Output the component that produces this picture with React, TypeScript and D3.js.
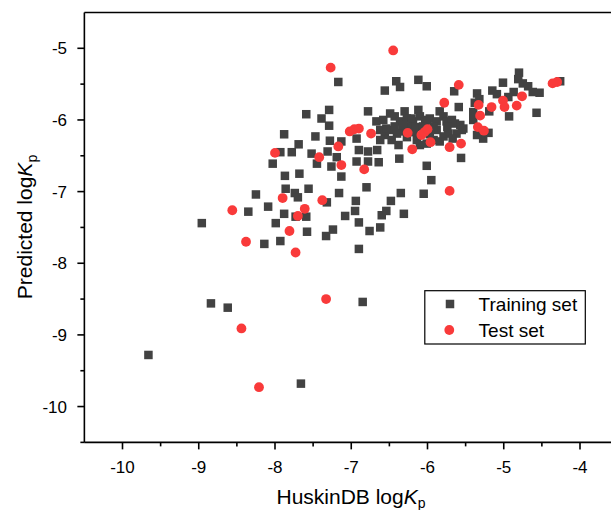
import React from "react";
import * as d3 from "d3";

const xTicks = [-10, -9, -8, -7, -6, -5, -4];
const yTicks = [-5, -6, -7, -8, -9, -10];
const xMinor = [-9.5, -8.5, -7.5, -6.5, -5.5, -4.5];
const yMinor = [-5.5, -6.5, -7.5, -8.5, -9.5, -10.5];

const trainingSet: [number, number][] = [
  [-7.17, -5.47], [-6.56, -5.59], [-6.41, -5.46], [-6.36, -5.54], [-6.12, -5.44], [-6.01, -5.53],
  [-5.65, -5.6], [-5.35, -5.63], [-5.32, -5.71], [-5.15, -5.59], [-5.01, -5.48], [-4.8, -5.34],
  [-4.81, -5.43], [-4.75, -5.49], [-4.68, -5.53], [-4.62, -5.61], [-4.53, -5.62], [-4.26, -5.46],
  [-4.94, -5.68], [-4.87, -5.61], [-4.57, -5.9], [-4.93, -5.95], [-5.59, -5.82], [-5.4, -5.89],
  [-5.38, -5.76], [-5.4, -6.0], [-5.19, -5.88], [-5.09, -5.64], [-7.59, -5.92], [-7.29, -5.86],
  [-7.39, -5.98], [-7.29, -6.08], [-6.78, -5.88],
  [-6.67, -6.02], [-6.58, -6.0], [-6.49, -5.91], [-6.43, -5.95], [-6.36, -6.02], [-6.3, -5.88],
  [-6.27, -5.98], [-6.19, -6.02], [-6.12, -5.86], [-6.1, -5.95], [-6.03, -6.02], [-5.97, -5.98],
  [-5.88, -6.02], [-5.84, -5.88], [-5.79, -5.95], [-5.75, -6.02], [-5.68, -6.0], [-5.64, -6.05],
  [-5.57, -6.07], [-5.53, -6.12],
  [-6.62, -6.14], [-6.56, -6.21], [-6.49, -6.14], [-6.4, -6.19], [-6.32, -6.16], [-6.25, -6.09],
  [-6.14, -6.28], [-6.1, -6.35], [-6.01, -6.33], [-5.92, -6.28], [-5.84, -6.3], [-5.79, -6.23],
  [-5.73, -6.19], [-5.62, -6.19], [-5.55, -6.14], [-6.38, -6.35], [-6.47, -6.28], [-6.62, -6.28],
  [-5.88, -6.14], [-5.27, -6.26], [-5.35, -6.21], [-5.2, -6.18], [-6.43, -6.09], [-6.54, -6.12],
  [-6.21, -5.98], [-6.01, -6.0], [-6.32, -6.07],
  [-5.92, -6.09], [-5.74, -6.1], [-6.16, -6.1], [-6.06, -6.09], [-5.97, -6.2], [-6.27, -6.24],
  [-5.67, -6.26], [-6.18, -6.17],
  [-7.88, -6.2], [-7.47, -6.23], [-7.69, -6.34], [-7.28, -6.29], [-7.13, -6.3], [-6.93, -6.26],
  [-6.9, -6.42], [-6.78, -6.44], [-6.66, -6.42], [-6.93, -6.58], [-6.78, -6.58], [-6.64, -6.59],
  [-6.37, -6.54], [-6.01, -6.64], [-5.95, -6.84], [-5.56, -6.53],
  [-7.93, -6.45], [-7.78, -6.45], [-8.03, -6.61], [-7.52, -6.47], [-7.45, -6.61], [-7.31, -6.44],
  [-7.26, -6.65], [-7.19, -6.52], [-7.13, -6.79], [-6.8, -6.94],
  [-7.87, -6.78], [-7.68, -6.75], [-7.56, -6.96], [-7.86, -6.96], [-7.74, -7.02], [-7.7, -7.08],
  [-8.25, -7.04], [-8.09, -7.21], [-8.35, -7.28], [-7.88, -7.31], [-7.73, -7.35], [-7.59, -7.35],
  [-7.99, -7.44], [-8.14, -7.73], [-7.93, -7.69], [-7.58, -7.56], [-7.33, -7.62], [-7.24, -7.53],
  [-7.32, -7.15], [-7.16, -7.02], [-6.94, -7.13], [-6.95, -7.27], [-7.08, -7.34], [-6.9, -7.43],
  [-6.76, -7.55], [-6.62, -7.5], [-6.6, -7.33], [-6.54, -7.27], [-6.48, -7.13], [-6.35, -7.02],
  [-6.31, -7.31], [-6.05, -7.03], [-6.9, -7.8], [-8.96, -7.44], [-8.84, -8.56], [-8.62, -8.62],
  [-9.66, -9.28], [-7.66, -9.68], [-6.85, -8.54],
];

const testSet: [number, number][] = [
  [-6.45, -5.03], [-7.27, -5.27], [-5.59, -5.51], [-4.36, -5.49], [-4.3, -5.47], [-5.78, -5.76],
  [-5.33, -5.79], [-5.16, -5.82], [-5.01, -5.73], [-4.99, -5.82], [-4.83, -5.8], [-4.76, -5.67],
  [-5.31, -5.94], [-5.34, -6.1], [-5.26, -6.15], [-7.02, -6.16], [-6.96, -6.13], [-6.9, -6.12],
  [-6.74, -6.19], [-6.26, -6.18], [-6.08, -6.21], [-6.04, -6.17], [-6.0, -6.13], [-5.96, -6.31],
  [-6.2, -6.41], [-5.71, -6.38], [-5.56, -6.33], [-7.17, -6.37], [-7.42, -6.52], [-7.13, -6.63],
  [-6.83, -6.69], [-5.71, -6.99], [-7.38, -7.12], [-8.0, -6.46], [-7.9, -7.09], [-7.61, -7.24],
  [-7.7, -7.34], [-8.56, -7.26], [-7.81, -7.55], [-8.38, -7.7], [-7.73, -7.85], [-7.33, -8.5],
  [-8.44, -8.91], [-8.21, -9.73],
];

const legendLabels = ["Training set", "Test set"];

const W = 611;
const H = 510;
const FONT = "'Liberation Sans', Arial, Helvetica, sans-serif";
const SQ = "#424242";
const RED = "#f93a3a";

export default function App() {
  const x = d3.scaleLinear().domain([-10, -4]).range([122.5, 580]);
  const y = d3.scaleLinear().domain([-5, -10]).range([48.3, 406.55]);
  const x0 = x(-10.5);
  const x1 = x(-3.4);
  const yTop = y(-4.5);
  const yBot = y(-10.5);
  const sq = 8.5;
  const r = 4.9;

  return (
    <svg
      width={W}
      height={H}
      style={{ position: "absolute", left: 0, top: 0, background: "#fff" }}
      fontFamily={FONT}
    >
      <rect width={W} height={H} fill="#fff" />
      <g>
        {trainingSet.map((d, i) => (
          <rect
            key={"t" + i}
            x={x(d[0]) - sq / 2}
            y={y(d[1]) - sq / 2}
            width={sq}
            height={sq}
            fill={SQ}
          />
        ))}
        {testSet.map((d, i) => (
          <circle key={"s" + i} cx={x(d[0])} cy={y(d[1])} r={r} fill={RED} />
        ))}
      </g>
      <g stroke="#000" strokeWidth={1.6} fill="none">
        <line x1={x0} x2={x1} y1={yTop} y2={yTop} />
        <line x1={x0} x2={x0} y1={yTop} y2={yBot} />
        <line x1={x0} x2={x1} y1={yBot} y2={yBot} />
        {xTicks.map((t) => (
          <line key={"xt" + t} x1={x(t)} x2={x(t)} y1={yBot} y2={yBot + 7} />
        ))}
        {xMinor.map((t) => (
          <line key={"xm" + t} x1={x(t)} x2={x(t)} y1={yBot} y2={yBot + 4} />
        ))}
        {yTicks.map((t) => (
          <line key={"yt" + t} x1={x0} x2={x0 - 7} y1={y(t)} y2={y(t)} />
        ))}
        {yMinor.map((t) => (
          <line key={"ym" + t} x1={x0} x2={x0 - 4} y1={y(t)} y2={y(t)} />
        ))}
      </g>
      <g fontSize={17} fill="#000">
        {xTicks.map((t) => (
          <text key={"xl" + t} x={x(t)} y={472.5} textAnchor="middle">
            {String(t)}
          </text>
        ))}
        {yTicks.map((t) => (
          <text key={"yl" + t} x={67} y={y(t) + 6} textAnchor="end">
            {String(t)}
          </text>
        ))}
      </g>
      <text x={351} y={504} fontSize={21} textAnchor="middle" fill="#000">
        HuskinDB log<tspan fontStyle="italic">K</tspan>
        <tspan fontSize={14} dy={4}>p</tspan>
      </text>
      <text
        transform={`translate(32,227) rotate(-90)`}
        fontSize={21}
        textAnchor="middle"
        fill="#000"
      >
        Predicted log<tspan fontStyle="italic">K</tspan>
        <tspan fontSize={14} dy={5}>p</tspan>
      </text>
      <g>
        <rect x={424.8} y={290.7} width={160.5} height={53.3} fill="#fff" stroke="#000" strokeWidth={1.2} />
        <rect x={450 - sq / 2} y={304 - sq / 2} width={sq} height={sq} fill={SQ} />
        <circle cx={449.3} cy={330} r={r} fill={RED} />
        <text x={478.6} y={310.5} fontSize={19} fill="#000">{legendLabels[0]}</text>
        <text x={478.6} y={336.5} fontSize={19} fill="#000">{legendLabels[1]}</text>
      </g>
    </svg>
  );
}
